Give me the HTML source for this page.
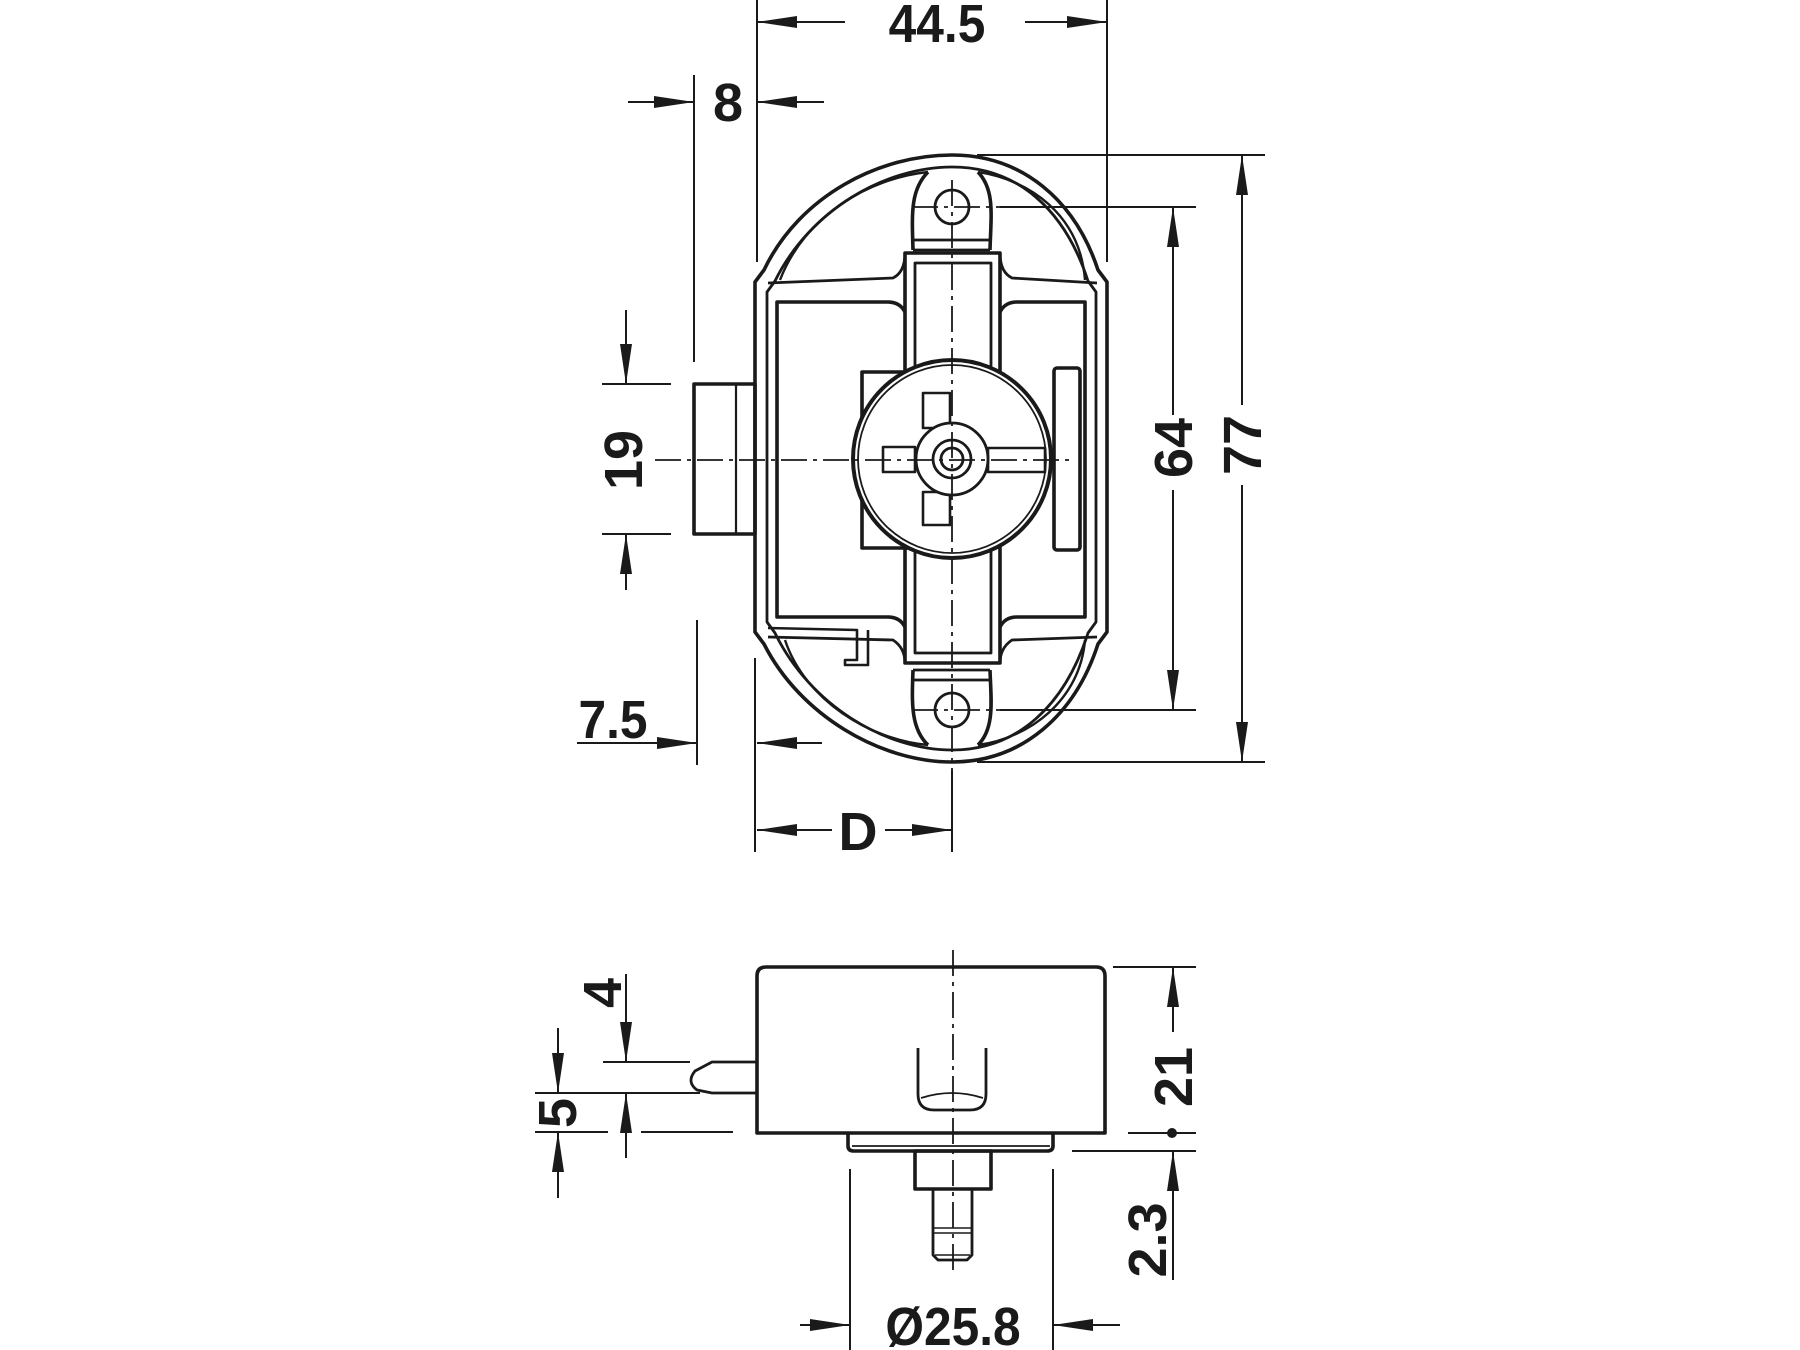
<!DOCTYPE html>
<html><head><meta charset="utf-8"><style>
html,body{margin:0;padding:0;background:#fff;}
svg{display:block}
text{font-family:"Liberation Sans",Arial,sans-serif;font-weight:bold;fill:#1a1a1a;text-anchor:middle}
</style></head><body>
<svg width="1800" height="1350" viewBox="0 0 1800 1350" xmlns="http://www.w3.org/2000/svg">
<g fill="none" stroke="#1a1a1a" stroke-width="3.6" stroke-linejoin="round">
<path d="M755,282 L764,270 C800,195 880,155 952,155 C1022,155 1075,200 1098,270 L1107,282 L1107,632 L1098,644 C1075,715 1022,762 952,762 C880,762 800,715 764,644 L755,632 Z"/>
<path d="M767,292 L775,281 C810,210 885,167 952,167 C1018,167 1065,210 1088,281 L1096,292 L1096,622 L1088,633 C1065,705 1018,750 952,750 C885,750 810,705 775,633 L767,622 Z" stroke-width="2.8"/>
<path d="M928,172 C910,190 912,215 913,250 M978,172 C995,190 991,215 990,250" />
<path d="M928,172 C870,178 805,215 780,280 M978,172 C1030,180 1080,215 1085,280" stroke-width="2.4"/>
<path d="M913,250 L990,250 M913,240 L990,240" stroke-width="2.8"/>
<path d="M928,745 C910,728 912,700 913,670 M978,745 C995,728 991,700 990,670"/>
<path d="M928,745 C870,740 805,700 785,640 M978,745 C1030,738 1080,700 1085,640" stroke-width="2.4"/>
<path d="M913,670 L990,670 M913,680 L990,680" stroke-width="2.8"/>
<path d="M768,283 L893,278 Q905,272 905,253 M1000,253 Q1000,272 1012,278 L1097,283" stroke-width="2.8"/>
<path d="M768,637 L893,640 Q905,648 905,663 M1000,663 Q1000,648 1012,640 L1097,637" stroke-width="2.8"/>
<path d="M905,312 Q900,302 888,302 L777,302 L777,617 L888,617 Q900,617 905,627"/>
<path d="M1000,312 Q1005,302 1017,302 L1085,302 L1085,617 L1017,617 Q1005,617 1000,627"/>
<path d="M905,253 L1000,253 L1000,663 L905,663 Z"/>
<path d="M915,263 L991,263 L991,653 L915,653 Z" stroke-width="2.8"/>
<circle cx="952" cy="207" r="17" stroke-width="2.8"/>
<circle cx="952" cy="710" r="17" stroke-width="2.8"/>
<rect x="862" y="372" width="60" height="176" fill="#fff"/>
<rect x="1054" y="368" width="26" height="182" rx="3"/>
<circle cx="952" cy="459" r="99" fill="#fff" stroke-width="4"/>
<circle cx="952" cy="459" r="94" stroke-width="1.8"/>
<rect x="923" y="393" width="27" height="35" stroke-width="2.6"/>
<rect x="923" y="492" width="27" height="33" stroke-width="2.6"/>
<rect x="883" y="447" width="32" height="25" stroke-width="2.6"/>
<rect x="988" y="448" width="57" height="24" stroke-width="2.6"/>
<circle cx="952" cy="459" r="36" fill="#fff" stroke-width="2.8"/>
<circle cx="952" cy="459" r="19" stroke-width="2.8"/>
<circle cx="952" cy="459" r="11" stroke-width="2.8"/>
<rect x="694" y="384" width="61" height="150"/>
<line x1="736" y1="384" x2="736" y2="534" stroke-width="2.2"/>
<path d="M768,628 L857,630 L857,660 L845,660 L845,665 L868,665 L868,630" stroke-width="2.6"/>
<path d="M757,1133 L757,976 Q757,967 766,967 L1096,967 Q1105,967 1105,976 L1105,1133 Z"/>
<path d="M848,1133 L848,1146 Q848,1151 854,1151 L1047,1151 Q1053,1151 1053,1146 L1053,1133"/>
<line x1="852" y1="1146" x2="1050" y2="1146" stroke-width="1.8"/>
<rect x="915" y="1151" width="76" height="38"/>
<path d="M933,1189 L933,1255 L938,1260 L967,1260 L972,1255 L972,1189" stroke-width="2.8"/>
<path d="M933,1228 L972,1228 M933,1233 L972,1233 M935,1255 L970,1255" stroke-width="1.6"/>
<path d="M918,1048 L918,1094 Q918,1110 934,1110 L970,1110 Q986,1110 986,1094 L986,1048" stroke-width="2.8"/>
<path d="M921,1098 Q952,1088 983,1098" stroke-width="1.8"/>
<path d="M757,1062 L712,1062 L695,1071 Q686,1082 697,1090 L712,1093 L757,1093" stroke-width="2.8"/>
</g>
<g stroke="#1a1a1a" stroke-width="1.8" stroke-dasharray="26,6,4,6" fill="none">
<line x1="952" y1="180" x2="952" y2="770"/>
<line x1="655" y1="460" x2="1075" y2="460"/>
<line x1="912" y1="207" x2="1000" y2="207"/>
<line x1="912" y1="710" x2="1000" y2="710"/>
<line x1="953" y1="950" x2="953" y2="1273"/>
</g>
<g stroke="#1a1a1a" stroke-width="2" fill="none">
<line x1="757" y1="0" x2="757" y2="262"/><line x1="1107" y1="0" x2="1107" y2="262"/>
<line x1="694" y1="75" x2="694" y2="362"/>
<line x1="757" y1="22" x2="845" y2="22"/><line x1="1025" y1="22" x2="1107" y2="22"/>
<line x1="628" y1="102" x2="694" y2="102"/><line x1="757" y1="102" x2="824" y2="102"/>
<line x1="977" y1="155" x2="1265" y2="155"/><line x1="977" y1="762" x2="1265" y2="762"/>
<line x1="1242" y1="155" x2="1242" y2="405"/><line x1="1242" y1="485" x2="1242" y2="762"/>
<line x1="1000" y1="207" x2="1196" y2="207"/><line x1="1000" y1="710" x2="1196" y2="710"/>
<line x1="1173" y1="207" x2="1173" y2="415"/><line x1="1173" y1="490" x2="1173" y2="710"/>
<line x1="602" y1="384" x2="671" y2="384"/><line x1="602" y1="534" x2="671" y2="534"/>
<line x1="626" y1="310" x2="626" y2="384"/><line x1="626" y1="534" x2="626" y2="590"/>
<line x1="697" y1="620" x2="697" y2="765"/><line x1="577" y1="743" x2="697" y2="743"/>
<line x1="757" y1="743" x2="822" y2="743"/>
<line x1="755" y1="658" x2="755" y2="852"/><line x1="952" y1="770" x2="952" y2="852"/>
<line x1="757" y1="830" x2="832" y2="830"/><line x1="885" y1="830" x2="952" y2="830"/>
<line x1="626" y1="974" x2="626" y2="1062"/><line x1="626" y1="1093" x2="626" y2="1158"/>
<line x1="603" y1="1062" x2="690" y2="1062"/>
<line x1="535" y1="1093" x2="700" y2="1093"/>
<line x1="535" y1="1132" x2="608" y2="1132"/><line x1="641" y1="1132" x2="733" y2="1132"/>
<line x1="558" y1="1028" x2="558" y2="1093"/><line x1="558" y1="1132" x2="558" y2="1198"/>
<line x1="1113" y1="967" x2="1196" y2="967"/><line x1="1173" y1="967" x2="1173" y2="1032"/>
<line x1="1128" y1="1133" x2="1196" y2="1133"/><line x1="1072" y1="1151" x2="1196" y2="1151"/>
<line x1="1173" y1="1151" x2="1173" y2="1280"/>
<line x1="850" y1="1169" x2="850" y2="1350"/><line x1="1053" y1="1169" x2="1053" y2="1350"/>
<line x1="800" y1="1325" x2="850" y2="1325"/><line x1="1053" y1="1325" x2="1120" y2="1325"/>
</g>
<g fill="#1a1a1a">
<polygon points="757,22 797,16 797,28"/><polygon points="1107,22 1067,16 1067,28"/>
<polygon points="694,102 654,96 654,108"/><polygon points="757,102 797,96 797,108"/>
<polygon points="1242,155 1236,195 1248,195"/><polygon points="1242,762 1236,722 1248,722"/>
<polygon points="1173,207 1167,247 1179,247"/><polygon points="1173,710 1167,670 1179,670"/>
<polygon points="626,384 620,344 632,344"/><polygon points="626,534 620,574 632,574"/>
<polygon points="697,743 657,737 657,749"/><polygon points="757,743 797,737 797,749"/>
<polygon points="757,830 797,824 797,836"/><polygon points="952,830 912,824 912,836"/>
<polygon points="626,1062 620,1022 632,1022"/><polygon points="626,1093 620,1133 632,1133"/>
<polygon points="558,1093 552,1053 564,1053"/><polygon points="558,1132 552,1172 564,1172"/>
<polygon points="1173,967 1167,1007 1179,1007"/><polygon points="1173,1151 1167,1191 1179,1191"/>
<polygon points="850,1325 810,1319 810,1331"/><polygon points="1053,1325 1093,1319 1093,1331"/>
<circle cx="1172" cy="1133" r="5"/>
</g>
<g font-size="54">
<text x="937" y="42" transform="translate(937 0) scale(0.92 1) translate(-937 0)">44.5</text>
<text x="728" y="121">8</text>
<text x="613" y="738" transform="translate(613 0) scale(0.92 1) translate(-613 0)">7.5</text>
<text x="858" y="850">D</text>
<text transform="translate(642 460) rotate(-90)">19</text>
<text transform="translate(1192 448) rotate(-90)">64</text>
<text transform="translate(1261 445) rotate(-90)">77</text>
<text transform="translate(621 993) rotate(-90)">4</text>
<text transform="translate(576 1113) rotate(-90)">5</text>
<text transform="translate(1192 1077) rotate(-90)">21</text>
<text transform="translate(1166 1240) rotate(-90)">2.3</text>
<text x="953" y="1345" transform="translate(953 0) scale(0.92 1) translate(-953 0)">Ø25.8</text>
</g>
</svg>
</body></html>
